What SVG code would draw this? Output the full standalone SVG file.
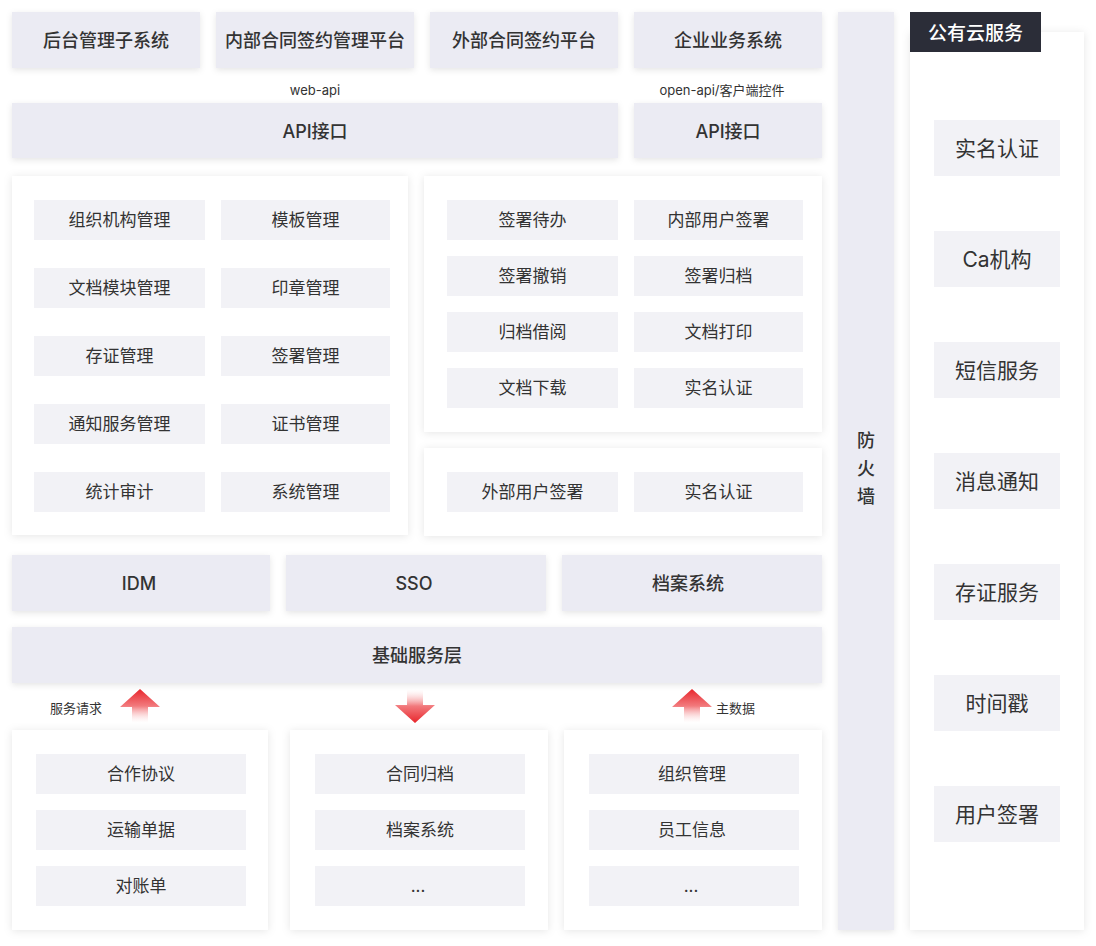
<svg xmlns="http://www.w3.org/2000/svg" width="1096" height="946" viewBox="0 0 1096 946">
<defs>
<filter id="sh" x="-10%" y="-20%" width="120%" height="140%">
<feDropShadow dx="0" dy="2" stdDeviation="3" flood-color="#000" flood-opacity="0.10"/>
</filter>
<filter id="shp" x="-10%" y="-10%" width="120%" height="120%">
<feDropShadow dx="0" dy="1" stdDeviation="4" flood-color="#000" flood-opacity="0.10"/>
</filter>
<linearGradient id="gup" x1="0" y1="0" x2="0" y2="1">
<stop offset="0" stop-color="#e8262c"/>
<stop offset="0.5" stop-color="#f27a7d"/>
<stop offset="1" stop-color="#ffffff" stop-opacity="0.2"/>
</linearGradient>
<linearGradient id="gdn" x1="0" y1="1" x2="0" y2="0">
<stop offset="0" stop-color="#e8262c"/>
<stop offset="0.5" stop-color="#f27a7d"/>
<stop offset="1" stop-color="#ffffff" stop-opacity="0.2"/>
</linearGradient>
</defs>
<style>
.ob{fill:#ebebf3;filter:url(#sh)}
.pn{fill:#ffffff;filter:url(#shp)}
.ib{fill:#f2f2f6}
.t{font-family:"Inter","Noto Sans CJK SC",sans-serif;fill:#333333;text-anchor:middle;dominant-baseline:central}
.t18{font-size:18px;font-weight:500}
.t17{font-size:17px}
.t21{font-size:21px}
.s{font-family:"Inter","Noto Sans CJK SC",sans-serif;fill:#333333;font-size:13px;dominant-baseline:central}
</style>
<rect width="1096" height="946" fill="#ffffff"/>

<g id="top-row">
<rect class="ob" x="12" y="12" width="188" height="56"/>
<text class="t t18" x="106" y="40">后台管理子系统</text>
<rect class="ob" x="216" y="12" width="198" height="56"/>
<text class="t t18" x="315" y="40">内部合同签约管理平台</text>
<rect class="ob" x="430" y="12" width="188" height="56"/>
<text class="t t18" x="524" y="40">外部合同签约平台</text>
<rect class="ob" x="634" y="12" width="188" height="56"/>
<text class="t t18" x="728" y="40">企业业务系统</text>
</g>

<g id="api">
<text class="s" x="315" y="90" text-anchor="middle">web-api</text>
<text class="s" x="722" y="90" text-anchor="middle">open-api/客户端控件</text>
<rect class="ob" x="12" y="103" width="606" height="55"/>
<text class="t t18" x="315" y="131">API接口</text>
<rect class="ob" x="634" y="103" width="188" height="55"/>
<text class="t t18" x="728" y="131">API接口</text>
</g>

<g id="mgmt-panel">
<rect class="pn" x="12" y="176" width="396" height="359"/>
<rect class="ib" x="34" y="200" width="171" height="40"/><text class="t t17" x="119.500" y="220">组织机构管理</text>
<rect class="ib" x="221" y="200" width="169" height="40"/><text class="t t17" x="305.500" y="220">模板管理</text>
<rect class="ib" x="34" y="268" width="171" height="40"/><text class="t t17" x="119.500" y="288">文档模块管理</text>
<rect class="ib" x="221" y="268" width="169" height="40"/><text class="t t17" x="305.500" y="288">印章管理</text>
<rect class="ib" x="34" y="336" width="171" height="40"/><text class="t t17" x="119.500" y="356">存证管理</text>
<rect class="ib" x="221" y="336" width="169" height="40"/><text class="t t17" x="305.500" y="356">签署管理</text>
<rect class="ib" x="34" y="404" width="171" height="40"/><text class="t t17" x="119.500" y="424">通知服务管理</text>
<rect class="ib" x="221" y="404" width="169" height="40"/><text class="t t17" x="305.500" y="424">证书管理</text>
<rect class="ib" x="34" y="472" width="171" height="40"/><text class="t t17" x="119.500" y="492">统计审计</text>
<rect class="ib" x="221" y="472" width="169" height="40"/><text class="t t17" x="305.500" y="492">系统管理</text>
</g>

<g id="internal-sign-panel">
<rect class="pn" x="424" y="176" width="398" height="256"/>
<rect class="ib" x="447" y="200" width="171" height="40"/><text class="t t17" x="532.500" y="220">签署待办</text>
<rect class="ib" x="634" y="200" width="169" height="40"/><text class="t t17" x="718.500" y="220">内部用户签署</text>
<rect class="ib" x="447" y="256" width="171" height="40"/><text class="t t17" x="532.500" y="276">签署撤销</text>
<rect class="ib" x="634" y="256" width="169" height="40"/><text class="t t17" x="718.500" y="276">签署归档</text>
<rect class="ib" x="447" y="312" width="171" height="40"/><text class="t t17" x="532.500" y="332">归档借阅</text>
<rect class="ib" x="634" y="312" width="169" height="40"/><text class="t t17" x="718.500" y="332">文档打印</text>
<rect class="ib" x="447" y="368" width="171" height="40"/><text class="t t17" x="532.500" y="388">文档下载</text>
<rect class="ib" x="634" y="368" width="169" height="40"/><text class="t t17" x="718.500" y="388">实名认证</text>
</g>

<g id="external-sign-panel">
<rect class="pn" x="424" y="448" width="398" height="88"/>
<rect class="ib" x="447" y="472" width="171" height="40"/><text class="t t17" x="532.500" y="492">外部用户签署</text>
<rect class="ib" x="634" y="472" width="169" height="40"/><text class="t t17" x="718.500" y="492">实名认证</text>
</g>

<g id="infra-row">
<rect class="ob" x="12" y="555" width="258" height="56"/><text class="t t18" x="139" y="583">IDM</text>
<rect class="ob" x="286" y="555" width="260" height="56"/><text class="t t18" x="414" y="583">SSO</text>
<rect class="ob" x="562" y="555" width="260" height="56"/><text class="t t18" x="688" y="583">档案系统</text>
</g>

<g id="base-layer">
<rect class="ob" x="12" y="627" width="810" height="56"/>
<text class="t t18" x="417" y="655">基础服务层</text>
</g>

<g id="connectors">
<path d="M140,689 L160,707 L148,707 L148,723 L132,723 L132,707 L120,707 Z" fill="url(#gup)"/>
<path d="M415,723 L435,705 L423,705 L423,689 L407,689 L407,705 L395,705 Z" fill="url(#gdn)"/>
<path d="M692,689 L712,707 L700,707 L700,723 L684,723 L684,707 L672,707 Z" fill="url(#gup)"/>
<text class="s" x="50" y="708">服务请求</text>
<text class="s" x="716" y="708">主数据</text>
</g>

<g id="biz-panel">
<rect class="pn" x="12" y="730" width="256" height="200"/>
<rect class="ib" x="36" y="754" width="210" height="40"/><text class="t t17" x="141" y="774">合作协议</text>
<rect class="ib" x="36" y="810" width="210" height="40"/><text class="t t17" x="141" y="830">运输单据</text>
<rect class="ib" x="36" y="866" width="210" height="40"/><text class="t t17" x="141" y="886">对账单</text>
</g>

<g id="archive-panel">
<rect class="pn" x="290" y="730" width="258" height="200"/>
<rect class="ib" x="315" y="754" width="210" height="40"/><text class="t t17" x="420" y="774">合同归档</text>
<rect class="ib" x="315" y="810" width="210" height="40"/><text class="t t17" x="420" y="830">档案系统</text>
<rect class="ib" x="315" y="866" width="210" height="40"/><text class="t t17" x="418" y="886">...</text>
</g>

<g id="master-panel">
<rect class="pn" x="564" y="730" width="258" height="200"/>
<rect class="ib" x="589" y="754" width="210" height="40"/><text class="t t17" x="692" y="774">组织管理</text>
<rect class="ib" x="589" y="810" width="210" height="40"/><text class="t t17" x="692" y="830">员工信息</text>
<rect class="ib" x="589" y="866" width="210" height="40"/><text class="t t17" x="691" y="886">...</text>
</g>

<g id="firewall">
<rect class="ob" x="838" y="12" width="56" height="918"/>
<text class="t t18" x="866" y="440">防</text>
<text class="t t18" x="866" y="468">火</text>
<text class="t t18" x="866" y="496">墙</text>
</g>

<g id="public-cloud">
<rect class="pn" x="910" y="32" width="174" height="898"/>
<rect x="910" y="12" width="131" height="40" fill="#2b2d38"/>
<text class="t t18" x="975.500" y="33" style="fill:#ffffff;font-size:19px">公有云服务</text>
<rect class="ib" x="934" y="120" width="126" height="56"/><text class="t t21" x="997" y="148">实名认证</text>
<rect class="ib" x="934" y="231" width="126" height="56"/><text class="t t21" x="997" y="259">Ca机构</text>
<rect class="ib" x="934" y="342" width="126" height="56"/><text class="t t21" x="997" y="370">短信服务</text>
<rect class="ib" x="934" y="453" width="126" height="56"/><text class="t t21" x="997" y="481">消息通知</text>
<rect class="ib" x="934" y="564" width="126" height="56"/><text class="t t21" x="997" y="592">存证服务</text>
<rect class="ib" x="934" y="675" width="126" height="56"/><text class="t t21" x="997" y="703">时间戳</text>
<rect class="ib" x="934" y="786" width="126" height="56"/><text class="t t21" x="997" y="814">用户签署</text>
</g>
</svg>
